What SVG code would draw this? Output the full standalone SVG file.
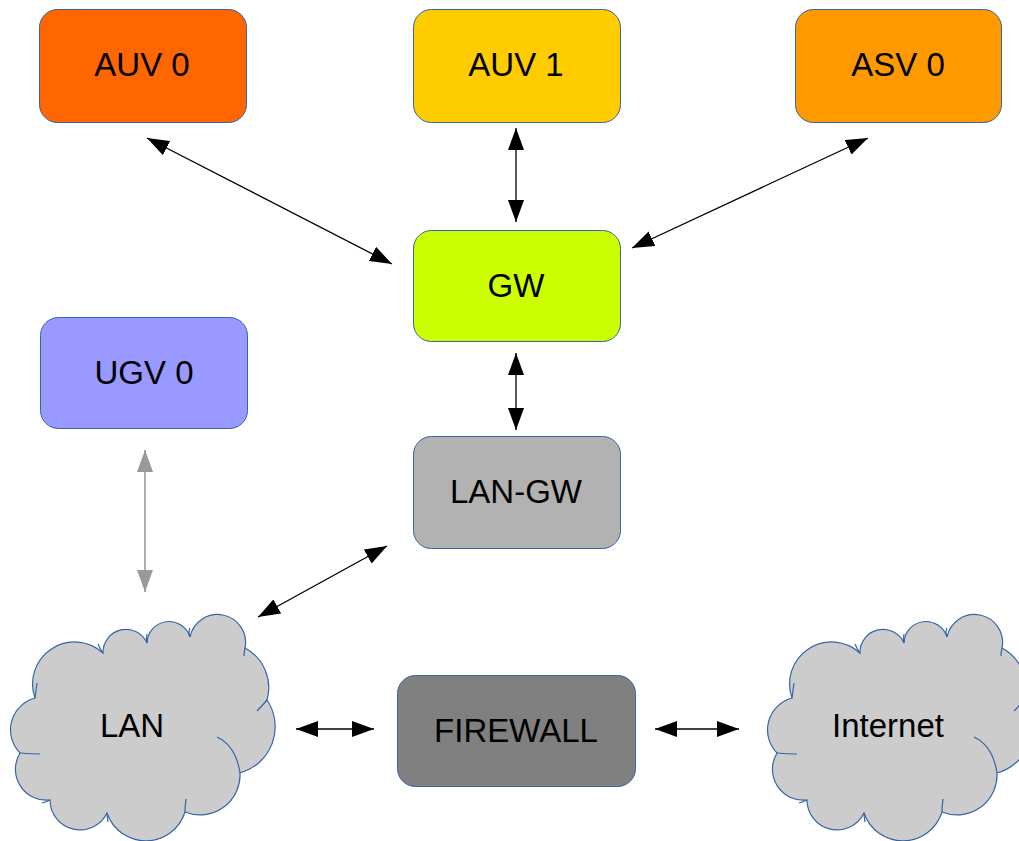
<svg xmlns="http://www.w3.org/2000/svg" width="1019" height="841" viewBox="0 0 1019 841">
  <defs>
    <style>
      .box { stroke: #3465a4; stroke-width: 1; }
      .cloud { fill: #cccccc; stroke: #3465a4; stroke-width: 1.2; }
      .crease { fill: none; stroke: #3465a4; stroke-width: 1.2; }
      .label { font-family: "Liberation Sans", Arial, sans-serif; font-size: 33px; fill: #000000; text-anchor: middle; }
      .link { stroke: #000000; stroke-width: 1.3; fill: none; marker-start: url(#head); marker-end: url(#head); }
      .link-grey { stroke: #999999; stroke-width: 1.6; fill: none; marker-start: url(#head-grey); marker-end: url(#head-grey); }
    </style>
    <marker id="head" markerUnits="userSpaceOnUse" markerWidth="23" markerHeight="16" refX="22" refY="8" orient="auto-start-reverse">
      <path d="M0,0 L22,8 L0,16 Z" fill="#000000"/>
    </marker>
    <marker id="head-grey" markerUnits="userSpaceOnUse" markerWidth="23" markerHeight="16" refX="22" refY="8" orient="auto-start-reverse">
      <path d="M0,0 L22,8 L0,16 Z" fill="#999999"/>
    </marker>
    <!-- cloud outline, reused for LAN and Internet -->
    <g id="cloud-shape">
      <path class="cloud" d="M35,698 A42,42 0 0 1 103,653 A23,23 0 0 1 147,643 A22,22 0 0 1 190,637 A28,28 0 0 1 245,648 A45,45 0 0 1 267,700 A48,48 0 0 1 240,773 A40,40 0 0 1 185,812 A41,41 0 0 1 107,813 A30,30 0 0 1 50,800 A31,31 0 0 1 20,753 A33,33 0 0 1 35,698 Z"/>
      <path class="crease" d="M35,698 Q36,690 37,683"/>
      <path class="crease" d="M103,653 Q100,649 98,644"/>
      <path class="crease" d="M147,643 Q146,639 147,634"/>
      <path class="crease" d="M190,637 Q188,632 190,628"/>
      <path class="crease" d="M245,648 Q244,652 244,656"/>
      <path class="crease" d="M267,700 Q262,706 257,711"/>
      <path class="crease" d="M217,737 Q236,746 240,773"/>
      <path class="crease" d="M185,812 Q185,806 186,799"/>
      <path class="crease" d="M107,813 Q107,817 108,822"/>
      <path class="crease" d="M50,800 Q46,802 42,803"/>
      <path class="crease" d="M20,753 Q30,754 40,754"/>
    </g>
  </defs>

  <rect width="1019" height="841" fill="#ffffff"/>

  <!-- connectors -->
  <g id="connectors">
    <line class="link" x1="147" y1="138" x2="392" y2="264"/>
    <line class="link" x1="516" y1="128" x2="516" y2="222"/>
    <line class="link" x1="868" y1="138" x2="632" y2="248"/>
    <line class="link" x1="516" y1="353" x2="516" y2="430"/>
    <line class="link-grey" x1="145" y1="450" x2="145" y2="592"/>
    <line class="link" x1="387" y1="546" x2="258" y2="617"/>
    <line class="link" x1="296" y1="729" x2="374" y2="729"/>
    <line class="link" x1="655" y1="729" x2="739" y2="729"/>
  </g>

  <!-- nodes -->
  <g id="auv0">
    <rect class="box" x="39.5" y="9.5" width="207" height="113" rx="18" fill="#ff6600"/>
    <text class="label" x="142" y="76">AUV 0</text>
  </g>
  <g id="auv1">
    <rect class="box" x="413.5" y="9.5" width="207" height="113" rx="18" fill="#ffcc00"/>
    <text class="label" x="516" y="76">AUV 1</text>
  </g>
  <g id="asv0">
    <rect class="box" x="795.5" y="9.5" width="206" height="113" rx="18" fill="#ff9900"/>
    <text class="label" x="898" y="76">ASV 0</text>
  </g>
  <g id="gw">
    <rect class="box" x="413.5" y="230.5" width="207" height="111" rx="18" fill="#ccff00"/>
    <text class="label" x="516" y="297">GW</text>
  </g>
  <g id="ugv0">
    <rect class="box" x="40.5" y="317.5" width="207" height="111" rx="18" fill="#9999ff"/>
    <text class="label" x="144" y="384">UGV 0</text>
  </g>
  <g id="lan-gw">
    <rect class="box" x="413.5" y="436.5" width="207" height="112" rx="18" fill="#b2b2b2"/>
    <text class="label" x="516" y="503">LAN-GW</text>
  </g>
  <g id="firewall">
    <rect class="box" x="397.5" y="675.5" width="238" height="111" rx="18" fill="#808080"/>
    <text class="label" x="516" y="742">FIREWALL</text>
  </g>
  <g id="lan">
    <use href="#cloud-shape"/>
    <text class="label" x="132" y="737">LAN</text>
  </g>
  <g id="internet">
    <use href="#cloud-shape" transform="translate(757,0)"/>
    <text class="label" x="888" y="737">Internet</text>
  </g>
</svg>
